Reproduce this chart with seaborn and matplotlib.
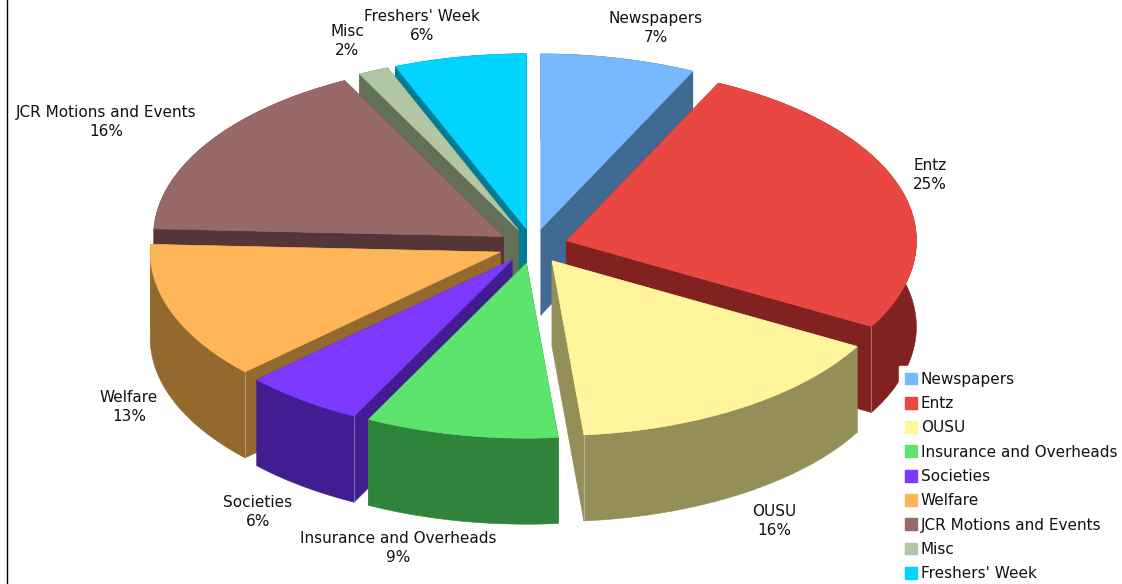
import numpy as np
import matplotlib
matplotlib.use("Agg")
import matplotlib.pyplot as plt
from matplotlib.patches import Patch, Polygon
import seaborn as sns

# ---- data ----
categories = ["Newspapers", "Entz", "OUSU", "Insurance and Overheads", "Societies",
              "Welfare", "JCR Motions and Events", "Misc", "Freshers' Week"]
shares = [7.15, 26.0, 15.4, 8.9, 5.55, 12.7, 16.8, 1.4, 6.1]
shown_percent = ["7%", "25%", "16%", "9%", "6%", "13%", "16%", "2%", "6%"]
top_colors = ["#76B9FF", "#E84841", "#FFF59D", "#5CE46C", "#7D39FF",
              "#FFB658", "#996869", "#B1C6A2", "#00D4FF"]
side_colors = ["#416A93", "#822220", "#948E58", "#2F833B", "#421D91",
               "#93692F", "#543638", "#646F58", "#007C94"]

# ---- layout (pixels) ----
CX, CY = 533, 246
RX, RY = 350, 175
DEPTH = 86
EXPLODE = 0.10
paint_order = [0, 8, 7, 6, 1, 5, 2, 4, 3]
label_xy = [(656, 28), (930, 175), (774, 521), (398, 548), (258, 512),
            (129, 407), (106, 122), (347, 41), (422, 26)]

sns.set_theme(style="white")
plt.rcParams["font.family"] = ["DejaVu Sans"]
top_pal = sns.color_palette(top_colors)
side_pal = sns.color_palette(side_colors)

fig = plt.figure(figsize=(11.22, 5.84), dpi=100)
ax = fig.add_axes([0, 0, 1, 1])
ax.set_xlim(0, 1122)
ax.set_ylim(584, 0)
ax.axis("off")
ax.axvline(7.5, color="black", lw=1.0, zorder=1)

fractions = np.array(shares) / np.sum(shares)
edges = np.concatenate([[0], np.cumsum(fractions)]) * 2 * np.pi


def prism(ax, i, base_z):
    t0, t1 = edges[i], edges[i + 1]
    mid = (t0 + t1) / 2
    ax0 = CX + EXPLODE * RX * np.sin(mid)
    ay0 = CY - EXPLODE * RY * np.cos(mid)
    t = np.linspace(t0, t1, 120)
    rim = np.column_stack([ax0 + RX * np.sin(t), ay0 - RY * np.cos(t)])
    apex = np.array([ax0, ay0])
    down = np.array([0, DEPTH])
    side = side_pal[i]
    kw = dict(closed=True, facecolor=side, edgecolor=side, lw=0.4)
    # radial walls, then the curved outer wall, then the top face
    for p in (rim[0], rim[-1]):
        ax.add_patch(Polygon([apex, p, p + down, apex + down], zorder=base_z, **kw))
    ax.add_patch(Polygon(np.vstack([rim, (rim + down)[::-1]]), zorder=base_z + 0.1, **kw))
    # faint light seam only where a front-facing radial wall meets the outer wall
    seams = []
    if np.pi < t0 < 3 * np.pi / 2:
        seams.append(rim[0])
    if np.pi / 2 < t1 < np.pi:
        seams.append(rim[-1])
    for p in seams:
        ax.plot([p[0], p[0]], [p[1], p[1] + DEPTH], color="#FFFFFF", alpha=0.3,
                lw=0.8, zorder=base_z + 0.2, solid_capstyle="butt")
    ax.add_patch(Polygon(np.vstack([apex, rim]), closed=True, facecolor=top_pal[i],
                         edgecolor=top_pal[i], lw=0.4, zorder=base_z + 0.3))


for z, i in enumerate(paint_order):
    prism(ax, i, 2 + z)

for (x, y), name, pct in zip(label_xy, categories, shown_percent):
    ax.text(x, y, f"{name}\n{pct}", ha="center", va="center", fontsize=11,
            color="#111111", linespacing=1.37, zorder=30)

handles = [Patch(facecolor=c, edgecolor=c, label=n) for c, n in zip(top_pal, categories)]
leg = ax.legend(handles=handles, loc="upper left", bbox_to_anchor=(899 / 1122, 1 - 366 / 584),
                borderaxespad=0, fontsize=11, frameon=True, fancybox=False, framealpha=1,
                facecolor="white", edgecolor="white", handlelength=0.82, handleheight=0.82,
                handletextpad=0.22, labelspacing=0.608, borderpad=0.38, labelcolor="#111111")
leg.set_zorder(25)

fig.savefig("out.png", dpi=100)
